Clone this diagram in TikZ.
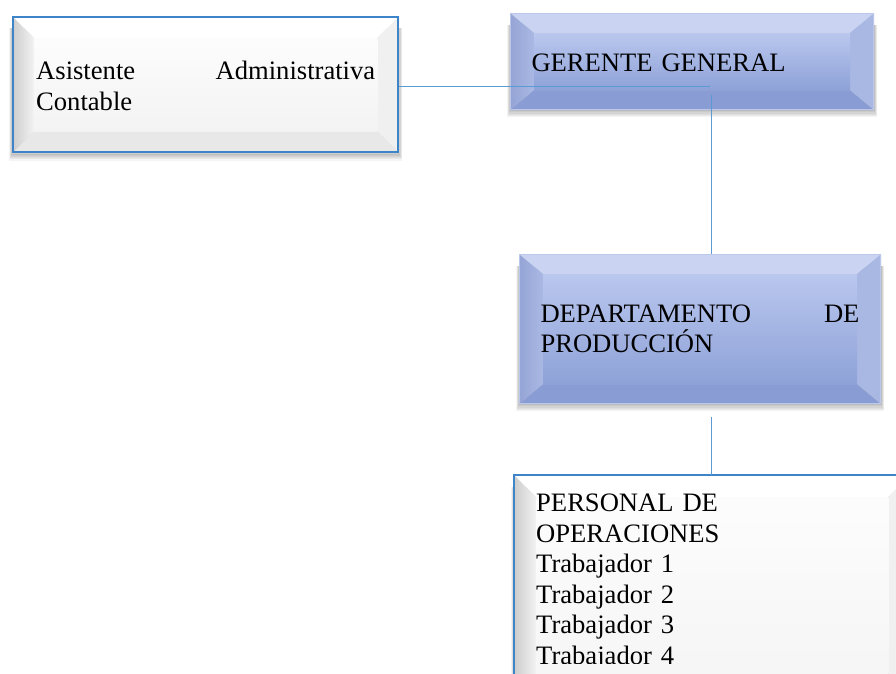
\documentclass[tikz,border=0pt]{standalone}
\usepackage{fontspec}
\setmainfont{Liberation Serif}
\usetikzlibrary{calc}
\pgfdeclarelayer{background}
\pgfsetlayers{background,main}
\definecolor{lnblue}{HTML}{5B9BD5}
\definecolor{wborder}{HTML}{3D84C8}
\definecolor{bborder}{HTML}{BCC8EA}
\definecolor{fb}{HTML}{8EA2D8}
\definecolor{fw}{HTML}{F3F3F3}
\definecolor{btop}{HTML}{CAD4F2}
\definecolor{bleftA}{HTML}{94A4D5}
\definecolor{bleftB}{HTML}{AAB8E3}
\definecolor{bright}{HTML}{A9B7E3}
\definecolor{bbottom}{HTML}{899CD3}
\definecolor{bface}{HTML}{BAC7EE}
\newcommand\facebot{black}
\newcommand\drawbevel[9]{%
  \foreach \s in {1,...,6}{%
    \fill[black,opacity=0.045] ($(#1.south west)+({-\s*0.5pt},{-\s*1.2pt})$) rectangle ($(#1.north east)+({\s*0.5pt},-12pt)$);
  }
  \fill[#6] (#1.north west) -- (#1.north east) -- ($(#1.north east)+(-#2,-#3)$) -- ($(#1.north west)+(#2,-#3)$) -- cycle;
  \fill[#8] (#1.south west) -- (#1.south east) -- ($(#1.south east)+(-#2,#3)$) -- ($(#1.south west)+(#2,#3)$) -- cycle;
  \shade[left color=#4,right color=#5] (#1.north west) -- (#1.south west) -- ($(#1.south west)+(#2,#3)$) -- ($(#1.north west)+(#2,-#3)$) -- cycle;
  \fill[#7] (#1.north east) -- (#1.south east) -- ($(#1.south east)+(-#2,#3)$) -- ($(#1.north east)+(-#2,-#3)$) -- cycle;
  \shade[top color=#9,bottom color=\facebot] ($(#1.north west)+(#2,-#3)$) rectangle ($(#1.south east)+(-#2,#3)$);
}
\tikzset{
  txt/.style={font=\fontsize{26.6}{30.5}\selectfont, align=left, inner ysep=0pt, anchor=north west},
  whitebox/.style={txt, draw=wborder, line width=2.4pt},
  bluebox/.style={txt, draw=bborder, line width=1pt},
  conn/.style={draw=lnblue, line width=0.9pt}
}
\begin{document}
\begin{tikzpicture}[x=1pt,y=-1pt]
\useasboundingbox (0,0) rectangle (896,673);
\clip (0,0) rectangle (896,673);
\node[whitebox, inner xsep=23pt, text width=339pt, minimum height=135pt] (asis) at (12,16) {\rule{0pt}{21pt}Asistente\hfill Administrativa\\Contable};
\node[bluebox, inner xsep=21pt, text width=321pt, minimum height=96pt] (ger) at (510,13) {\rule{0pt}{20pt}GERENTE GENERAL};
\node[bluebox, inner xsep=21pt, text width=319pt, minimum height=149pt] (dep) at (519,254) {DEPARTAMENTO\hfill DE\\PRODUCCIÓN};
\begin{scope}
\clip (0,0) rectangle (896,663);
\node[txt, inner xsep=22pt, inner ysep=19pt, text width=352pt, text depth=230pt] (per) at (514,475) {PERSONAL DE\\OPERACIONES\\Trabajador 1\\Trabajador 2\\Trabajador 3\\Trabajador 4};
\end{scope}
\draw[wborder, line width=2.4pt] (per.south west) -- (per.north west) -- (per.north east);
\begin{pgfonlayer}{background}
  \fill[white] (0,0) rectangle (896,673);
  \renewcommand\facebot{fw}
  \drawbevel{asis}{22pt}{22pt}{white!80!black}{white!95!black}{white}{white!94!black}{white!91!black}{white!99!black}
  \drawbevel{per}{22pt}{22pt}{white!80!black}{white!95!black}{white}{white!94!black}{white!91!black}{white!99!black}
  \renewcommand\facebot{fb}
  \drawbevel{ger}{24pt}{20pt}{bleftA}{bleftB}{btop}{bright}{bbottom}{bface}
  \drawbevel{dep}{24pt}{20pt}{bleftA}{bleftB}{btop}{bright}{bbottom}{bface}
\end{pgfonlayer}
\coordinate (gj) at (710,86);
\coordinate (gv) at (711,95);
\coordinate (dv) at (711,417);
\draw[conn] (asis.east |- gj) -- (gj);
\draw[conn] (gv) -- (gv |- dep.north);
\draw[conn] (dv) -- (dv |- per.north);
\end{tikzpicture}
\end{document}
